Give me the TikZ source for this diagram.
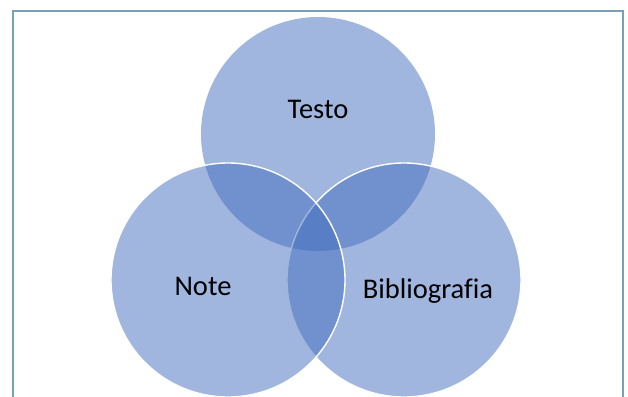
\documentclass[tikz,border=0pt]{standalone}
\usepackage{fontspec}
\setmainfont[Ligatures=CommonOff]{Carlito}
\definecolor{setblue}{RGB}{65,109,189}
\definecolor{framecol}{RGB}{122,160,184}
\begin{document}
\begin{tikzpicture}[
    x=1pt, y=-1pt,
    set/.style={circle, draw=white, line width=1.4pt, fill=setblue, fill opacity=0.5, minimum size=234pt, inner sep=0pt},
    setname/.style={anchor=base, font=\fontsize{28.5}{33}\selectfont, text=black}
]
\useasboundingbox (0,0) rectangle (628,396);

% Frame
\draw[framecol, line width=2pt] (13,405) -- (13,11) -- (623,11) -- (623,405);

% Sets
\node[set, draw=none] (testo) at (318,134) {};
\node[set] (biblio) at (404,280) {};
\node[set] (note) at (228,280) {};

% Labels
\node[setname] (ltesto) at (318,118) {Testo};
\node[setname] (lnote) at (203,295) {Note};
\node[setname] (lbiblio) at (428,298) {Bibliografia};

\end{tikzpicture}
\end{document}
